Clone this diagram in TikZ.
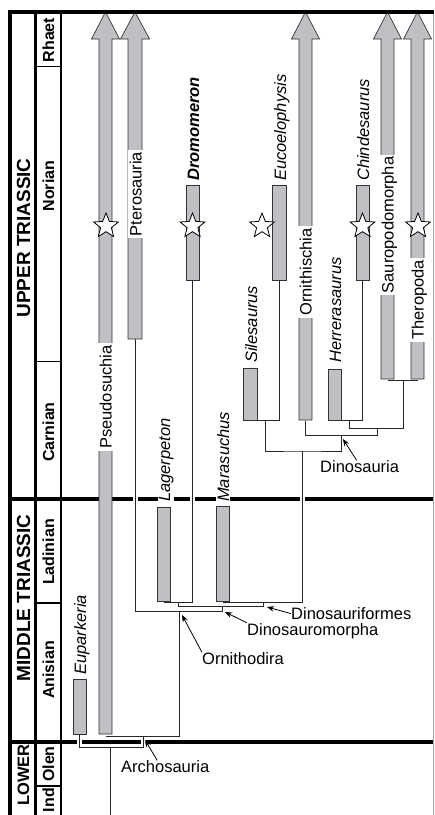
\documentclass[tikz,border=0pt]{standalone}
\usepackage{fontspec}
\setmainfont{Liberation Sans}
\usepackage{tikz}
\usetikzlibrary{arrows.meta,shapes.geometric}
\usepackage{xcolor}
\definecolor{barfill}{RGB}{191,192,196}
\newcommand{\labelsize}{\fontsize{16.5}{19}\selectfont}
\newcommand{\longbar}[3]{\draw[bar] (#1,#3) -- (#1,39) -- ({#1-7.5},39) -- ({(#1+#2)/2},12) -- ({#2+7.5},39) -- (#2,39) -- (#2,#3) -- cycle;}

\begin{document}
\begin{tikzpicture}[x=1pt,y=-1pt,font=\labelsize,line join=miter,
  bar/.style={draw=black!80,fill=barfill,line width=0.7pt},
  branch/.style={draw=black!85,line width=0.8pt,preaction={draw=white,line width=5pt}},
  taxon/.style={rotate=90,anchor=base west,font=\labelsize\itshape,inner sep=1pt,fill=white},
  clade/.style={rotate=90,anchor=base,inner sep=2pt,fill=white},
  group/.style={anchor=base west,inner sep=0pt},
  pointer/.style={-{Stealth[length=7pt,width=5.5pt]},line width=0.8pt},
  stage/.style={rotate=90,font=\bfseries\fontsize{16}{16}\selectfont,inner sep=0pt},
  period/.style={rotate=90,font=\bfseries\fontsize{19}{19}\selectfont,inner sep=0pt},
  fossil/.style={star,star points=5,star point ratio=2.3,minimum size=26pt,inner sep=0pt,draw=black,fill=white,line width=0.8pt}]
\useasboundingbox (0,0) rectangle (435,815);
\draw[line width=3.5pt] (10,9.7) -- (10,815);
\draw[line width=3.2pt] (35.7,12) -- (35.7,815);
\draw[line width=1.5pt] (61,12) -- (61,815);
\draw[line width=1.5pt] (35.7,66.7) -- (61,66.7) (35.7,361.7) -- (61,361.7) (35.7,603) -- (61,603) (35.7,786) -- (61,786);
\draw[line width=4pt] (10,498.7) -- (433.5,498.7);
\draw[line width=3.6pt] (10,741.7) -- (433.5,741.7);
\draw[gray!70,line width=0.8pt] (433.5,12) -- (433.5,815);

\coordinate (eup) at (79.5,734);
\coordinate (pse) at (106,736);
\coordinate (pte) at (135,339);
\coordinate (lag) at (163.5,602);
\coordinate (dro) at (192.5,280);
\coordinate (mar) at (222.5,602);
\coordinate (sil) at (250,420.5);
\coordinate (euc) at (279,280);
\coordinate (orn) at (305.5,420.5);
\coordinate (her) at (334.5,420.5);
\coordinate (chi) at (362.5,280);
\coordinate (sau) at (387.5,380);
\coordinate (the) at (417.5,380);
\coordinate (root) at (110,815);
\coordinate (archJ) at (143,747);
\coordinate (ornithJ) at (179,611);
\coordinate (dmJ) at (222,611);
\coordinate (dmstem) at (178,602);
\coordinate (dfJ) at (263,606);
\coordinate (dinostem) at (302,451);
\coordinate (silstem) at (265,420.5);
\coordinate (dinoJ) at (341,435);
\coordinate (saurJ) at (377,435);
\coordinate (herstem) at (349,420.5);
\coordinate (eusJ) at (403,428);

\draw[branch]
  (eup) |- (archJ) -- (archJ |- pse)
  (pse) -| (ornithJ)
  (archJ -| root) -- (root)
  (pte) |- (dmJ) -- (dmJ |- dfJ)
  (lag) -| (dro)
  (dmstem) |- (dfJ) -- (dfJ |- mar)
  (mar) -| (dinostem)
  (sil) -| (euc)
  (silstem) |- (dinostem) -| (dinoJ)
  (orn) |- (saurJ) -- (saurJ |- eusJ)
  (her) -| (chi)
  (herstem) |- (eusJ) -- (eusJ |- sau)
  (sau) -- (the);

\draw[bar] (73,679) rectangle (86,734);
\draw[bar] (157,507) rectangle (170,601);
\draw[bar] (186,185) rectangle (199,280);
\draw[bar] (216,506) rectangle (229,601);
\draw[bar] (243,368) rectangle (257,420);
\draw[bar] (272,185) rectangle (286,280);
\draw[bar] (328,369) rectangle (341,420);
\draw[bar] (356,185) rectangle (369,280);
\longbar{99}{112}{734}
\longbar{128}{142}{339}
\longbar{299}{312}{420}
\longbar{381}{394}{379}
\longbar{411}{424}{379}
\draw[line width=4pt] (8.25,11.7) -- (434,11.7);

\node[fossil] (star1) at (106,226) {};
\node[fossil] (star2) at (192.5,226) {};
\node[fossil] (star3) at (262,226) {};
\node[fossil] (star4) at (362.5,226) {};
\node[fossil] (star5) at (418,226) {};

\node[taxon] (euparkeria) at (86,676) {Euparkeria};
\node[taxon] (lagerpeton) at (170,503) {Lagerpeton};
\node[taxon,font=\labelsize\bfseries\itshape] (dromomeron) at (199,182) {Dromomeron};
\node[taxon] (marasuchus) at (229,503) {Marasuchus};
\node[taxon] (silesaurus) at (257,364) {Silesaurus};
\node[taxon] (eucoelophysis) at (286,182) {Eucoelophysis};
\node[taxon] (herrerasaurus) at (341,364) {Herrerasaurus};
\node[taxon] (chindesaurus) at (369,182) {Chindesaurus};

\node[clade] (pseudosuchia) at (111.5,397) {Pseudosuchia};
\node[clade] (pterosauria) at (141.5,194) {Pterosauria};
\node[clade] (ornithischia) at (311.5,272) {Ornithischia};
\node[clade] (sauropodomorpha) at (393.5,225) {Sauropodomorpha};
\node[clade] (theropoda) at (423.5,300) {Theropoda};

\node[group] (dinosauria) at (320,472.5) {Dinosauria};
\node[group] (ornithodira) at (202,664.5) {Ornithodira};
\node[group] (dinosauromorpha) at (247,635) {Dinosauromorpha};
\node[group] (dinosauriformes) at (291,619.5) {Dinosauriformes};
\node[group] (archosauria) at (121,772.5) {Archosauria};
\coordinate (archtip) at (145,740);
\coordinate (ortip) at (182,615);
\coordinate (dmtip) at (225,612);
\coordinate (dftip) at (267,607);
\coordinate (dinotip) at (343,439);
\draw[pointer] ([xshift=-8pt]archosauria.north) -- (archtip);
\draw[pointer] (ornithodira.north west) -- (ortip);
\draw[pointer] (dinosauromorpha.north west) -- (dmtip);
\draw[pointer] (dinosauriformes.west) -- (dftip);
\draw[pointer] ([xshift=-3pt]dinosauria.north) -- (dinotip);

\node[period] (upper) at (23.5,238) {UPPER TRIASSIC};
\node[period] (middle) at (23.5,598) {MIDDLE TRIASSIC};
\node[period,font=\bfseries\fontsize{16.5}{16}\selectfont] (lower) at (23.5,775) {LOWER};
\node[stage] (rhaet) at (48.5,40) {Rhaet};
\node[stage] (norian) at (48.5,186) {Norian};
\node[stage] (carnian) at (48.5,432) {Carnian};
\node[stage] (ladinian) at (48.5,552) {Ladinian};
\node[stage] (anisian) at (48.5,670) {Anisian};
\node[stage] (olen) at (48.5,764) {Olen};
\node[stage] (ind) at (48.5,800) {Ind};
\end{tikzpicture}
\end{document}
